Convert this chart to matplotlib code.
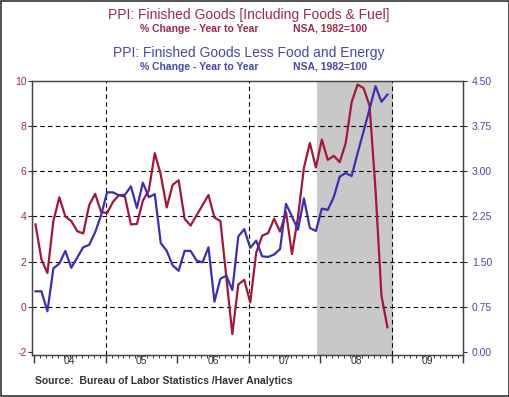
import numpy as np
import matplotlib.pyplot as plt
from matplotlib.patches import Rectangle

plt.rcParams['font.family'] = ['Liberation Sans', 'DejaVu Sans']

# monthly data, Jan 2004 - Dec 2008
ppi_total = [3.65, 2.1, 1.5, 3.8, 4.85, 4.0, 3.8, 3.35, 3.25, 4.5, 5.0, 4.2,
             4.15, 4.65, 4.95, 4.87, 3.65, 3.67, 4.7, 5.15, 6.8, 5.85, 4.4, 5.4,
             5.6, 3.9, 3.6, 4.05, 4.5, 4.95, 3.95, 3.8, 1.3, -1.2, 1.0, 1.2,
             0.2, 2.4, 3.15, 3.27, 3.9, 3.33, 4.2, 2.34, 3.97, 6.15, 7.25, 6.16,
             7.4, 6.5, 6.68, 6.4, 7.24, 9.05, 9.83, 9.67, 8.9, 5.2, 0.5, -0.9]
ppi_core = [1.01, 1.01, 0.68, 1.39, 1.47, 1.68, 1.40, 1.57, 1.74, 1.78, 1.99, 2.27,
            2.65, 2.65, 2.60, 2.61, 2.75, 2.39, 2.81, 2.57, 2.62, 1.81, 1.68, 1.44,
            1.35, 1.68, 1.68, 1.52, 1.49, 1.74, 0.84, 1.22, 1.27, 1.03, 1.92, 2.04,
            1.73, 1.85, 1.59, 1.58, 1.62, 1.71, 2.46, 2.25, 2.03, 2.55, 2.06, 2.01,
            2.38, 2.36, 2.57, 2.91, 2.97, 2.92, 3.30, 3.66, 4.03, 4.41, 4.15, 4.27]
year_labels = ['04', '05', '06', '07', '08', '09']
left_ticks = [-2, 0, 2, 4, 6, 8, 10]
right_ticks = [0.0, 0.75, 1.5, 2.25, 3.0, 3.75, 4.5]
recession = (2007 + 11.5 / 12, 2009.02)

dates = 2004 + (np.arange(len(ppi_total)) + 0.25) / 12

red = '#A3173A'
blue = '#3A30B2'
red_txt = '#9E2A48'
blue_txt = '#4A48A8'

W, H = 510, 397
fig = plt.figure(figsize=(5.1, 3.97), dpi=100)
ax = fig.add_axes([0.0633, 0.1058, 0.8455, 0.6909])
ax2 = ax.twinx()

ax.axvspan(recession[0], recession[1], color='#C8C8C8', zorder=0, lw=0)
for y in [0, 2, 4, 6, 8]:
    ax.axhline(y, color='black', lw=0.8, dashes=(4, 3), zorder=1)
for x in [2005, 2007, 2009]:
    ax.axvline(x, color='black', lw=0.8, dashes=(4, 3), zorder=1)

ax.plot(dates, ppi_total, color=red, lw=1.6, zorder=3)
ax2.plot(dates, ppi_core, color=blue, lw=1.6, zorder=3)

ax.set_xlim(2003.976, 2010.0)
ax.set_ylim(-2.12, 10)
ax2.set_ylim((-2.12 + 2) * 0.375, 4.5)

ax.set_yticks(left_ticks)
ax.set_yticklabels([str(t) for t in left_ticks], color=red_txt, fontsize=7.5)
ax2.set_yticks(right_ticks)
ax2.set_yticklabels(['%.2f' % t for t in right_ticks], color=blue_txt, fontsize=7.5)
ax.tick_params(axis='y', length=3, pad=1, color='#333333')
ax2.tick_params(axis='y', length=3, pad=3, color='#333333')

ax.set_xticks(np.arange(2004, 2011))
ax.set_xticklabels([])
ax.set_xticks(np.arange(2004, 2010, 1 / 12), minor=True)
ax.tick_params(axis='x', which='major', length=6, width=1, color='#333333')
ax.tick_params(axis='x', which='minor', length=2.5, width=0.7, color='#333333')
for i, lab in enumerate(year_labels):
    ax.text(2004.5 + i, -0.004, lab, transform=ax.get_xaxis_transform(),
            ha='center', va='top', fontsize=7.5, color='#333333')

for a in (ax, ax2):
    for s in a.spines.values():
        s.set_color('#444444')
        s.set_linewidth(0.9)

# titles
fig.text(248.5 / W, 1 - 15.5 / H, 'PPI: Finished Goods [Including Foods & Fuel]',
         ha='center', va='center', fontsize=10, color=red_txt)
fig.text(140 / W, 1 - 28.5 / H, '% Change - Year to Year',
         ha='left', va='center', fontsize=7.5, color=red_txt, fontweight='bold')
fig.text(293 / W, 1 - 28.5 / H, 'NSA, 1982=100',
         ha='left', va='center', fontsize=7.5, color=red_txt, fontweight='bold')
fig.text(248.5 / W, 1 - 53.5 / H, 'PPI: Finished Goods Less Food and Energy',
         ha='center', va='center', fontsize=10, color=blue_txt)
fig.text(140 / W, 1 - 66.5 / H, '% Change - Year to Year',
         ha='left', va='center', fontsize=7.5, color=blue_txt, fontweight='bold')
fig.text(293 / W, 1 - 66.5 / H, 'NSA, 1982=100',
         ha='left', va='center', fontsize=7.5, color=blue_txt, fontweight='bold')
fig.text(35 / W, 1 - 381.5 / H, 'Source:  Bureau of Labor Statistics /Haver Analytics',
         ha='left', va='center', fontsize=7.5, color='#333333', fontweight='bold')

fig.patches.append(Rectangle((0.002, 0.003), 0.996, 0.994, transform=fig.transFigure,
                             fill=False, edgecolor='#333333', lw=1.2))

fig.savefig('out.png', dpi=100)
